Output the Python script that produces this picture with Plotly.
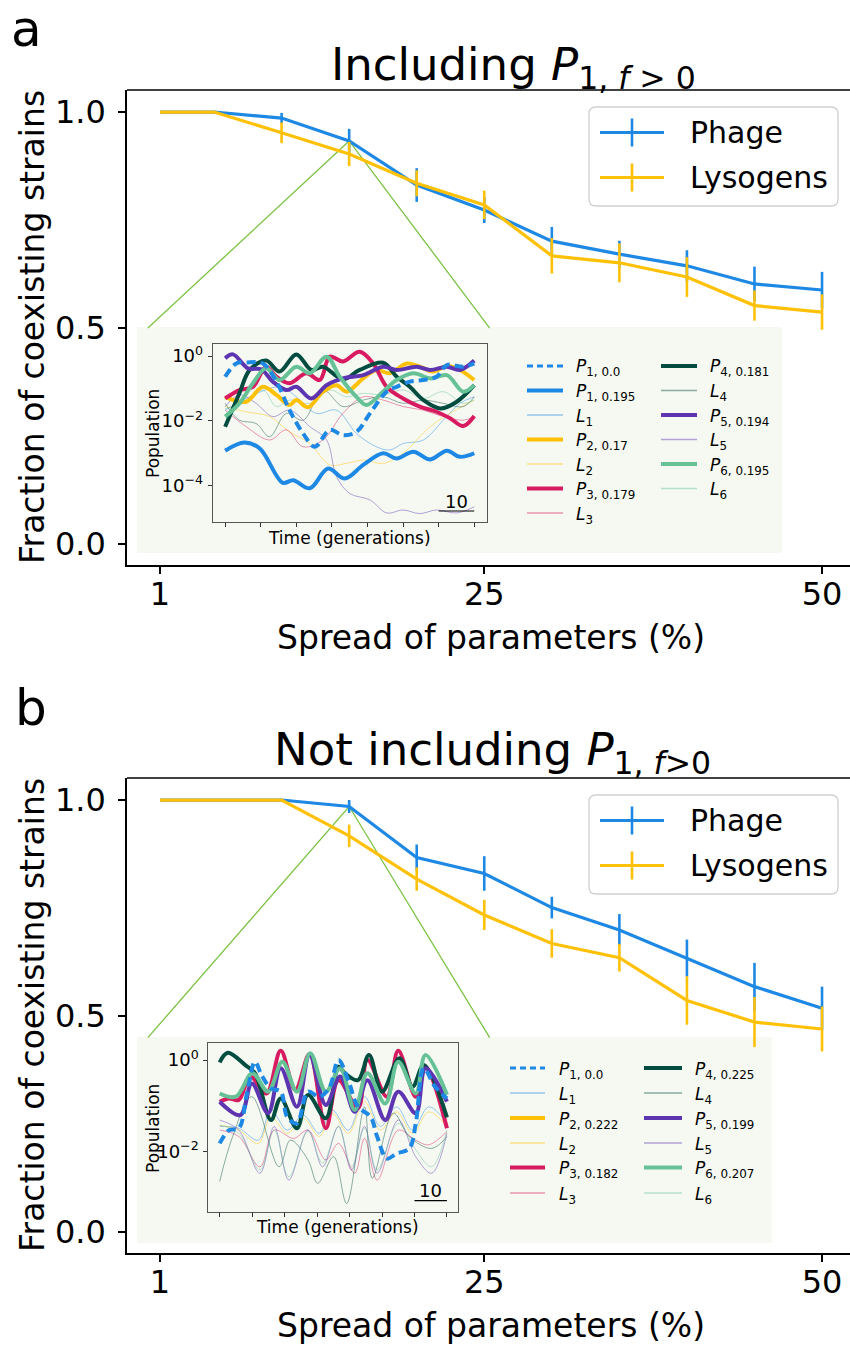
import plotly.graph_objects as go

W, H = 850, 1346
FONT = "DejaVu Sans"

# ---------------- main panel data ----------------
spread = [1, 5, 10, 15, 20, 25, 30, 35, 40, 45, 50]
x_ticks = [1, 25, 50]

a_phage = [1.0, 1.0, 0.986, 0.933, 0.831, 0.773, 0.701, 0.671, 0.644, 0.602, 0.588]
a_phage_err = [0, 0, 0.012, 0.028, 0.039, 0.030, 0.033, 0.031, 0.036, 0.040, 0.042]
a_lyso = [1.0, 1.0, 0.952, 0.903, 0.835, 0.785, 0.667, 0.651, 0.618, 0.552, 0.537]
a_lyso_err = [0, 0, 0.024, 0.028, 0.030, 0.033, 0.041, 0.045, 0.046, 0.035, 0.041]

b_phage = [1.0, 1.0, 1.0, 0.985, 0.867, 0.830, 0.751, 0.699, 0.634, 0.568, 0.518]
b_phage_err = [0, 0, 0, 0.015, 0.030, 0.040, 0.025, 0.037, 0.043, 0.055, 0.050]
b_lyso = [1.0, 1.0, 1.0, 0.917, 0.817, 0.734, 0.668, 0.635, 0.536, 0.486, 0.470]
b_lyso_err = [0, 0, 0, 0.026, 0.027, 0.035, 0.033, 0.032, 0.056, 0.058, 0.052]

# ---------------- inset a (log10 population vs generations) ----------------
a_P1_00_t = [0, 3.1, 5.9, 10.6, 14.4, 18.1, 21.9, 25.2, 29.4, 33.1, 36.9, 40.7, 45.4, 48.2, 51.9, 55.7, 59.4, 62.3, 66.9, 70.0]
a_P1_00_log = [-0.64, -0.23, -0.20, -0.23, -0.79, -1.67, -2.39, -2.80, -2.28, -2.44, -2.34, -1.77, -1.10, -0.95, -0.79, -0.74, -0.64, -0.28, -0.33, -0.23]
a_P1_f_t = [0, 5.4, 9.7, 16.2, 19.1, 23.8, 28.9, 33.6, 38.8, 44.4, 48.2, 52.9, 57.6, 62.3, 66.0, 70.0]
a_P1_f_log = [-2.92, -2.67, -2.85, -3.91, -3.83, -4.08, -3.47, -3.78, -3.36, -3.00, -3.16, -2.95, -3.19, -2.92, -3.11, -3.00]
a_L1_t = [0, 15.3, 20.0, 25.6, 31.3, 36.9, 42.5, 46.3, 50.0, 55.7, 61.3, 66.0, 70.0]
a_L1_log = [-1.67, -0.95, -1.26, -1.77, -1.67, -2.39, -2.80, -2.90, -2.70, -2.59, -1.98, -1.46, -1.26]
a_P2_t = [0, 5.9, 10.6, 14.4, 18.1, 20.0, 23.3, 27.5, 31.3, 34.1, 38.8, 42.5, 46.3, 51.0, 54.7, 58.5, 62.3, 66.0, 70.0]
a_P2_log = [-1.26, -1.41, -0.95, -1.20, -1.51, -1.36, -1.58, -1.10, -0.90, -1.10, -0.69, -0.43, -0.53, -0.23, -0.33, -0.48, -0.31, -0.43, -0.74]
a_L2_t = [0, 5.9, 12.5, 18.1, 23.8, 29.4, 34.1, 38.8, 44.4, 50.0, 57.6, 63.2, 70.0]
a_L2_log = [-1.56, -1.72, -1.87, -2.34, -2.70, -3.36, -3.31, -3.21, -3.31, -3.00, -2.18, -1.77, -1.36]
a_P3_t = [0, 4.0, 7.8, 11.5, 14.4, 18.1, 22.8, 26.6, 29.4, 33.1, 37.8, 41.6, 45.4, 50.0, 54.7, 59.4, 63.2, 66.9, 70.0]
a_P3_log = [-1.31, -1.05, -0.95, -0.33, -0.64, -0.84, -0.53, -0.74, -0.02, -0.17, 0.13, -0.23, -0.95, -1.31, -1.56, -1.72, -1.92, -2.16, -1.85]
a_L3_t = [0, 5.9, 12.5, 17.2, 21.9, 27.5, 33.1, 38.8, 44.4, 50.0, 55.7, 61.3, 66.9, 70.0]
a_L3_log = [-1.67, -2.18, -2.59, -2.28, -2.80, -2.59, -1.77, -1.26, -1.36, -1.56, -1.67, -1.87, -1.98, -1.87]
a_P4_t = [0, 4.0, 6.9, 11.5, 15.3, 20.0, 24.2, 27.5, 33.1, 37.8, 44.4, 48.2, 51.9, 55.7, 60.4, 65.1, 70.0]
a_P4_log = [-2.18, -1.15, -0.43, -0.14, -0.48, 0.05, -0.43, -0.33, -0.72, -0.43, -0.21, -0.64, -0.95, -1.36, -1.62, -1.41, -0.90]
a_L4_t = [0, 4.0, 8.7, 12.5, 17.2, 21.9, 27.5, 33.1, 38.8, 44.4, 50.0, 55.7, 61.3, 66.9, 70.0]
a_L4_log = [-1.46, -1.98, -2.08, -2.49, -1.77, -1.98, -1.05, -1.56, -1.36, -1.26, -1.46, -1.36, -1.46, -1.56, -1.26]
a_P5_t = [0, 2.2, 6.4, 10.1, 13.4, 17.2, 20.0, 24.2, 28.5, 33.1, 38.8, 44.4, 48.2, 53.8, 57.6, 62.3, 66.0, 70.0]
a_P5_log = [-0.07, 0.05, -0.38, -0.41, -0.79, -1.05, -0.95, -1.31, -0.90, -0.69, -0.59, -0.33, -0.43, -0.33, -0.43, -0.33, -0.43, -0.14]
a_L5_t = [0, 4.0, 8.7, 13.4, 18.1, 23.8, 28.5, 31.3, 35.0, 40.7, 45.4, 50.0, 54.7, 59.4, 65.1, 70.0]
a_L5_log = [-1.56, -1.20, -1.46, -1.87, -1.67, -2.18, -2.59, -3.72, -4.24, -4.44, -4.84, -4.75, -4.86, -4.75, -4.84, -4.65]
a_P6_t = [0, 4.0, 7.8, 11.5, 15.3, 20.0, 23.8, 28.5, 32.2, 36.9, 39.7, 44.4, 48.2, 52.9, 57.6, 62.3, 66.9, 70.0]
a_P6_log = [-1.87, -1.46, -0.84, -0.38, -0.74, -0.33, -0.53, -0.02, -0.64, -1.26, -1.51, -1.10, -0.74, -0.53, -0.69, -0.59, -1.10, -0.90]
a_L6_t = [0, 5.0, 10.6, 14.4, 18.1, 23.8, 29.4, 34.1, 38.8, 44.4, 50.0, 55.7, 61.3, 66.9, 70.0]
a_L6_log = [-1.62, -1.46, -1.05, -1.56, -1.36, -1.46, -1.05, -1.26, -1.15, -1.20, -1.05, -1.31, -1.10, -1.46, -1.36]

# ---------------- inset b ----------------
b_P1_00_t = [0, 2.9, 5.9, 8.4, 10.9, 12.9, 15.8, 18.8, 20.8, 23.8, 27.2, 30.7, 33.7, 36.6, 39.6, 42.6, 46.5, 48.5, 51.5, 54.5, 58.4, 60.4, 62.9, 66.3, 70.0]
b_P1_00_log = [-1.82, -1.53, -1.49, -0.73, -0.04, -0.33, -0.62, -0.69, -1.24, -1.38, -0.69, -0.80, -0.62, 0.0, -0.44, -1.02, -1.24, -1.67, -2.15, -2.04, -1.93, -1.38, -0.18, -0.58, -0.84]
b_L1_t = [0, 5.9, 11.9, 15.8, 20.8, 25.7, 30.7, 34.7, 39.6, 44.6, 49.5, 54.5, 59.4, 64.4, 70.0]
b_L1_log = [-1.45, -1.49, -1.75, -1.09, -1.53, -1.20, -1.60, -1.09, -1.53, -0.80, -1.45, -1.02, -1.53, -1.02, -1.38]
b_L2_t = [0, 5.9, 11.9, 15.8, 20.8, 25.7, 30.7, 34.7, 39.6, 44.6, 49.5, 54.5, 59.4, 64.4, 70.0]
b_L2_log = [-1.42, -1.53, -1.82, -1.24, -1.60, -1.27, -1.67, -1.16, -1.60, -0.91, -1.53, -1.13, -1.60, -1.13, -1.45]
b_P3_t = [0, 2.9, 5.9, 9.4, 14.4, 18.8, 23.3, 27.7, 32.7, 36.6, 42.6, 45.5, 51.5, 55.0, 60.4, 63.4, 70.0]
b_P3_log = [-0.91, -0.84, -0.87, -0.36, -0.73, 0.20, -0.65, 0.13, -1.49, -0.44, -1.05, 0.0, -0.80, 0.20, -0.80, -0.15, -1.49]
b_L3_t = [0, 5.9, 12.4, 16.8, 22.8, 27.2, 32.7, 36.6, 41.6, 44.6, 48.5, 55.0, 60.4, 64.4, 70.0]
b_L3_log = [-1.53, -1.67, -2.33, -1.53, -1.71, -1.53, -2.18, -1.82, -2.47, -1.71, -2.62, -1.53, -1.75, -1.85, -1.56]
b_P4_t = [0, 2.5, 7.9, 10.9, 15.8, 18.8, 23.8, 27.2, 32.7, 36.6, 38.6, 42.6, 46.0, 50.0, 55.4, 59.4, 62.9, 70.0]
b_P4_log = [-0.05, 0.16, -0.11, -0.29, -1.31, -0.84, -1.49, -0.76, -1.27, -0.15, -0.29, -0.44, 0.11, -0.69, 0.04, -0.58, -0.11, -1.25]
b_L4_t = [0, 4.0, 9.9, 18.3, 21.8, 27.2, 30.2, 35.1, 39.1, 44.6, 47.0, 53.5, 58.4, 65.3, 70.0]
b_L4_log = [-2.65, -1.67, -0.80, -2.33, -1.75, -2.18, -2.69, -2.11, -3.13, -1.02, -2.58, -1.16, -1.67, -1.93, -1.67]
b_P5_t = [0, 6.4, 9.9, 14.9, 18.8, 23.8, 27.7, 32.7, 37.1, 41.6, 45.5, 51.0, 55.0, 60.4, 63.4, 70.0]
b_P5_log = [-0.91, -1.20, -0.51, -1.16, -0.18, -1.02, 0.11, -0.98, -0.36, -1.13, -0.44, -1.31, -0.69, -1.16, -0.18, -0.91]
b_L5_t = [0, 5.9, 12.4, 16.8, 21.3, 27.2, 31.7, 36.6, 40.6, 44.6, 48.5, 55.0, 60.4, 65.3, 70.0]
b_L5_log = [-1.31, -1.53, -2.47, -1.45, -2.62, -1.53, -2.33, -1.45, -2.40, -1.45, -2.47, -1.31, -2.11, -2.47, -1.60]
b_P6_t = [0, 5.0, 10.1, 14.9, 19.3, 23.8, 27.9, 32.7, 37.1, 41.6, 45.5, 51.0, 55.0, 60.4, 63.4, 70.0]
b_P6_log = [-0.73, -0.80, -0.29, -0.69, -0.04, -0.69, 0.15, -0.69, -0.18, -1.09, -0.29, -0.95, -0.04, -0.73, 0.11, -0.76]
b_L6_t = [0, 5.9, 12.4, 16.8, 21.3, 27.2, 31.7, 36.6, 40.6, 44.6, 48.5, 55.0, 60.4, 65.3, 70.0]
b_L6_log = [-1.42, -1.60, -2.40, -1.53, -2.55, -1.56, -2.25, -1.45, -2.33, -1.49, -2.40, -1.38, -1.96, -2.33, -1.53]

inset_time_ticks = [0, 10, 20, 30, 40, 50, 60, 70]

a_legend_col1 = ["<i>P</i><sub>1, 0.0</sub>", "<i>P</i><sub>1, 0.195</sub>", "<i>L</i><sub>1</sub>",
                 "<i>P</i><sub>2, 0.17</sub>", "<i>L</i><sub>2</sub>", "<i>P</i><sub>3, 0.179</sub>", "<i>L</i><sub>3</sub>"]
a_legend_col2 = ["<i>P</i><sub>4, 0.181</sub>", "<i>L</i><sub>4</sub>", "<i>P</i><sub>5, 0.194</sub>",
                 "<i>L</i><sub>5</sub>", "<i>P</i><sub>6, 0.195</sub>", "<i>L</i><sub>6</sub>"]
b_legend_col1 = ["<i>P</i><sub>1, 0.0</sub>", "<i>L</i><sub>1</sub>", "<i>P</i><sub>2, 0.222</sub>",
                 "<i>L</i><sub>2</sub>", "<i>P</i><sub>3, 0.182</sub>", "<i>L</i><sub>3</sub>"]
b_legend_col2 = ["<i>P</i><sub>4, 0.225</sub>", "<i>L</i><sub>4</sub>", "<i>P</i><sub>5, 0.199</sub>",
                 "<i>L</i><sub>5</sub>", "<i>P</i><sub>6, 0.207</sub>", "<i>L</i><sub>6</sub>"]

# ---------------- styling ----------------
C_BLUE = "#1E88E5"
C_AMBER = "#FFC107"
C_CRIM = "#D81B60"
C_DKGRN = "#004D40"
C_PURP = "#5E35B1"
C_MINT = "#66C296"
C_ZOOM = "#7CC243"
INSET_BG = "#F6F9F2"


def px(x):
    return x / W


def py(y):
    return 1 - y / H


def rgba(hexc, a):
    h = hexc.lstrip("#")
    return "rgba(%d,%d,%d,%.2f)" % (int(h[0:2], 16), int(h[2:4], 16), int(h[4:6], 16), a)


fig = go.Figure()


def main_panel(xa, ya, phage, perr, lyso, lerr, zoom_y_end):
    # zoom connector lines to inset
    i15 = spread.index(15)
    fig.add_trace(go.Scatter(x=[0.1, spread[i15], 25.4], y=[zoom_y_end, phage[i15], zoom_y_end],
                             mode="lines", line=dict(color=C_ZOOM, width=1.3),
                             xaxis=xa, yaxis=ya, showlegend=False, hoverinfo="skip"))
    fig.add_trace(go.Scatter(x=spread, y=phage, mode="lines", line=dict(color=C_BLUE, width=3.2),
                             error_y=dict(type="data", array=perr, thickness=2.6, width=0, color=C_BLUE),
                             xaxis=xa, yaxis=ya, name="Phage", showlegend=False))
    fig.add_trace(go.Scatter(x=spread, y=lyso, mode="lines", line=dict(color=C_AMBER, width=3.2),
                             error_y=dict(type="data", array=lerr, thickness=2.6, width=0, color=C_AMBER),
                             xaxis=xa, yaxis=ya, name="Lysogens", showlegend=False))


main_panel("x", "y", a_phage, a_phage_err, a_lyso, a_lyso_err, 0.5)
main_panel("x2", "y2", b_phage, b_phage_err, b_lyso, b_lyso_err, 0.45)


def ts(xa, ya, t, logv, color, width, dash="solid", alpha=1.0):
    fig.add_trace(go.Scatter(x=t, y=[10 ** v for v in logv], mode="lines",
                             line=dict(color=rgba(color, alpha), width=width, dash=dash, shape="spline", smoothing=1.0),
                             xaxis=xa, yaxis=ya, showlegend=False, hoverinfo="skip"))


THIN = 1.0
THICK = 4.0
DASH = "9px,5px"
LA = 0.45

# inset a: thin lines first, then thick
ts("x3", "y3", a_L1_t, a_L1_log, C_BLUE, THIN, alpha=LA)
ts("x3", "y3", a_L2_t, a_L2_log, C_AMBER, THIN, alpha=LA)
ts("x3", "y3", a_L3_t, a_L3_log, C_CRIM, THIN, alpha=LA)
ts("x3", "y3", a_L4_t, a_L4_log, C_DKGRN, THIN, alpha=LA)
ts("x3", "y3", a_L5_t, a_L5_log, C_PURP, THIN, alpha=LA)
ts("x3", "y3", a_L6_t, a_L6_log, C_MINT, THIN, alpha=LA)
ts("x3", "y3", a_P1_f_t, a_P1_f_log, C_BLUE, THICK)
ts("x3", "y3", a_P2_t, a_P2_log, C_AMBER, THICK)
ts("x3", "y3", a_P3_t, a_P3_log, C_CRIM, THICK)
ts("x3", "y3", a_P4_t, a_P4_log, C_DKGRN, THICK)
ts("x3", "y3", a_P5_t, a_P5_log, C_PURP, THICK)
ts("x3", "y3", a_P6_t, a_P6_log, C_MINT, THICK)
ts("x3", "y3", a_P1_00_t, a_P1_00_log, C_BLUE, THICK, dash=DASH)

# inset b
ts("x4", "y4", b_L1_t, b_L1_log, C_BLUE, THIN, alpha=LA)
ts("x4", "y4", b_L2_t, b_L2_log, C_AMBER, THIN, alpha=LA)
ts("x4", "y4", b_L3_t, b_L3_log, C_CRIM, THIN, alpha=LA)
ts("x4", "y4", b_L4_t, b_L4_log, C_DKGRN, THIN, alpha=LA)
ts("x4", "y4", b_L5_t, b_L5_log, C_PURP, THIN, alpha=LA)
ts("x4", "y4", b_L6_t, b_L6_log, C_MINT, THIN, alpha=LA)
ts("x4", "y4", b_P3_t, b_P3_log, C_CRIM, THICK)
ts("x4", "y4", b_P4_t, b_P4_log, C_DKGRN, THICK)
ts("x4", "y4", b_P5_t, b_P5_log, C_PURP, THICK)
ts("x4", "y4", b_P6_t, b_P6_log, C_MINT, THICK)
ts("x4", "y4", b_P1_00_t, b_P1_00_log, C_BLUE, THICK, dash=DASH)

# ---------------- axes ----------------
tickfont_main = dict(family=FONT, size=32, color="black")
main_x = dict(range=[-1.443, 52.07], tickmode="array", tickvals=x_ticks, ticktext=[str(v) for v in x_ticks],
              ticks="outside", ticklen=7, tickwidth=1.6, tickcolor="black", showline=True, linecolor="black",
              linewidth=1.6, showgrid=False, zeroline=False, tickfont=tickfont_main, ticklabelstandoff=-7)
main_y = dict(range=[-0.0486, 1.051], tickmode="array", tickvals=[0, 0.5, 1.0], ticktext=["0.0", "0.5", "1.0"],
              ticks="outside", ticklen=7, tickwidth=1.6, tickcolor="black", showline=True, linecolor="black",
              linewidth=1.6, showgrid=False, zeroline=False, tickfont=tickfont_main, ticklabelstandoff=6)

inset_x = dict(range=[-3.5, 73.5], tickmode="array", tickvals=inset_time_ticks, showticklabels=False,
               ticks="outside", ticklen=4, tickwidth=1, tickcolor="#333", showline=True, mirror=True,
               linecolor="#555", linewidth=1, showgrid=False, zeroline=False)
inset_y = dict(type="log", tickmode="array", ticks="outside", ticklen=4, tickwidth=1, tickcolor="#333",
               showline=True, mirror=True, linecolor="#555", linewidth=1, showgrid=False, zeroline=False,
               tickfont=dict(family=FONT, size=18, color="black"), ticklabelstandoff=1)

fig.update_layout(
    width=W, height=H, margin=dict(l=0, r=0, t=0, b=0),
    paper_bgcolor="white", plot_bgcolor="rgba(0,0,0,0)",
    font=dict(family=FONT, color="black"),
    showlegend=False,
    xaxis=dict(domain=[px(127), 1.0], anchor="y", **main_x),
    yaxis=dict(domain=[py(565), py(90)], anchor="x", **main_y),
    xaxis2=dict(domain=[px(127), 1.0], anchor="y2", **main_x),
    yaxis2=dict(domain=[py(1253), py(778)], anchor="x2", **main_y),
    xaxis3=dict(domain=[px(212.7), px(486.7)], anchor="y3", **inset_x),
    yaxis3=dict(domain=[py(522), py(344)], anchor="x3", range=[-5.12, 0.37], tickvals=[1, 1e-2, 1e-4],
                ticktext=["10<sup>0</sup>", "10<sup>\u22122</sup>", "10<sup>\u22124</sup>"], **inset_y),
    xaxis4=dict(domain=[px(208.3), px(458.3)], anchor="y4", **inset_x),
    yaxis4=dict(domain=[py(1211.7), py(1043.3)], anchor="x4", range=[-3.31, 0.365], tickvals=[1, 1e-2],
                ticktext=["10<sup>0</sup>", "10<sup>\u22122</sup>"], **inset_y),
)

shapes = []
annotations = []

# inset backgrounds
for (x0, x1, y0, y1) in [(137, 782, 327, 553), (137, 772, 1037, 1243)]:
    shapes.append(dict(type="rect", xref="paper", yref="paper", x0=px(x0), x1=px(x1), y0=py(y1), y1=py(y0),
                       fillcolor=INSET_BG, line=dict(width=0), layer="below"))

# top spines
for yt in [90, 778]:
    shapes.append(dict(type="line", xref="paper", yref="paper", x0=px(127), x1=1.0, y0=py(yt), y1=py(yt),
                       line=dict(color="black", width=1.6)))


def rounded_box(x0, y0, x1, y1, r):
    return ("M {a},{b} L {c},{b} Q {d},{b} {d},{e} L {d},{f} Q {d},{g} {c},{g} L {a},{g} Q {h},{g} {h},{f} "
            "L {h},{e} Q {h},{b} {a},{b} Z").format(
        a=px(x0 + r), b=py(y0), c=px(x1 - r), d=px(x1), e=py(y0 + r), f=py(y1 - r), g=py(y1), h=px(x0))


# main legends
for top in [107, 795]:
    shapes.append(dict(type="path", xref="paper", yref="paper", path=rounded_box(589, top, 838, top + 99, 7),
                       fillcolor="rgba(255,255,255,0.85)", line=dict(color="#d0d0d0", width=1.3)))
    for k, (lab, col) in enumerate([("Phage", C_BLUE), ("Lysogens", C_AMBER)]):
        yr = top + 25.5 + 45 * k
        shapes.append(dict(type="line", xref="paper", yref="paper", x0=px(600), x1=px(664), y0=py(yr), y1=py(yr),
                           line=dict(color=col, width=3.2)))
        shapes.append(dict(type="line", xref="paper", yref="paper", x0=px(632), x1=px(632), y0=py(yr - 14),
                           y1=py(yr + 14), line=dict(color=col, width=2.6)))
        annotations.append(dict(text=lab, xref="paper", yref="paper", x=px(688), y=py(yr), xanchor="left",
                                yanchor="middle", showarrow=False, font=dict(size=30, family=FONT)))

# inset legends
def inset_legend(col_x, rows, labels, styles):
    lx0, lx1, tx = col_x
    for yr, lab, (col, wdt, dash, alpha) in zip(rows, labels, styles):
        shapes.append(dict(type="line", xref="paper", yref="paper", x0=px(lx0), x1=px(lx1), y0=py(yr), y1=py(yr),
                           line=dict(color=rgba(col, alpha), width=wdt, dash=dash)))
        annotations.append(dict(text=lab, xref="paper", yref="paper", x=px(tx), y=py(yr + 2), xanchor="left",
                                yanchor="middle", showarrow=False, font=dict(size=17, family=FONT)))


S_P = lambda c: (c, THICK, "solid", 1.0)
S_L = lambda c: (c, 1.5, "solid", LA)
S_D = (C_BLUE, 3.0, "6px,4px", 1.0)

inset_legend((527, 563, 574), [366, 390.5, 415, 439.5, 464, 488.5, 513], a_legend_col1,
             [S_D, S_P(C_BLUE), S_L(C_BLUE), S_P(C_AMBER), S_L(C_AMBER), S_P(C_CRIM), S_L(C_CRIM)])
inset_legend((661, 697, 708), [366, 390.5, 415, 439.5, 464, 488.5], a_legend_col2,
             [S_P(C_DKGRN), S_L(C_DKGRN), S_P(C_PURP), S_L(C_PURP), S_P(C_MINT), S_L(C_MINT)])
inset_legend((510, 545, 557), [1068, 1093, 1118, 1143, 1167.5, 1193], b_legend_col1,
             [S_D, S_L(C_BLUE), S_P(C_AMBER), S_L(C_AMBER), S_P(C_CRIM), S_L(C_CRIM)])
inset_legend((644, 682, 693), [1068, 1093, 1118, 1143, 1167.5, 1193], b_legend_col2,
             [S_P(C_DKGRN), S_L(C_DKGRN), S_P(C_PURP), S_L(C_PURP), S_P(C_MINT), S_L(C_MINT)])

# scale bars
for xa, ybar, ytxt in [("x3", 511, 501), ("x4", 1200.7, 1190)]:
    shapes.append(dict(type="line", xref=xa, yref="paper", x0=60, x1=70, y0=py(ybar), y1=py(ybar),
                       line=dict(color="black", width=1.2)))
    annotations.append(dict(text="10", xref=xa, yref="paper", x=65, y=py(ytxt), xanchor="center", yanchor="middle",
                            showarrow=False, font=dict(size=18, family=FONT)))

# inset axis labels
for (xp, yp, txt, ang) in [(153, 434, "Population", -90), (349, 538, "Time (generations)", 0),
                           (153, 1129, "Population", -90), (337.5, 1227, "Time (generations)", 0)]:
    annotations.append(dict(text=txt, xref="paper", yref="paper", x=px(xp), y=py(yp), xanchor="center",
                            yanchor="middle", textangle=ang, showarrow=False, font=dict(size=17, family=FONT)))

# titles, panel letters, axis titles
annotations += [
    dict(text="a", x=px(27), y=py(29), font=dict(size=50, family=FONT)),
    dict(text="b", x=px(31), y=py(708), font=dict(size=50, family=FONT)),
    dict(text="Including <i>P</i><sub>1, <i>f</i>\u00a0>\u00a00</sub>", x=px(513), y=py(67),
         font=dict(size=45, family=FONT)),
    dict(text="Not including <i>P</i><sub>1, <i>f</i>>0</sub>", x=px(492), y=py(752), font=dict(size=45, family=FONT)),
    dict(text="Fraction of coexisting strains", x=px(32), y=py(327), textangle=-90, font=dict(size=33, family=FONT)),
    dict(text="Fraction of coexisting strains", x=px(32), y=py(1015), textangle=-90, font=dict(size=33, family=FONT)),
    dict(text="Spread of parameters (%)", x=px(491), y=py(637), font=dict(size=33, family=FONT)),
    dict(text="Spread of parameters (%)", x=px(491), y=py(1325), font=dict(size=33, family=FONT)),
]
for an in annotations[-8:]:
    an.update(dict(xref="paper", yref="paper", xanchor="center", yanchor="middle", showarrow=False))

fig.update_layout(shapes=shapes, annotations=annotations)
fig.write_html("out.html")
